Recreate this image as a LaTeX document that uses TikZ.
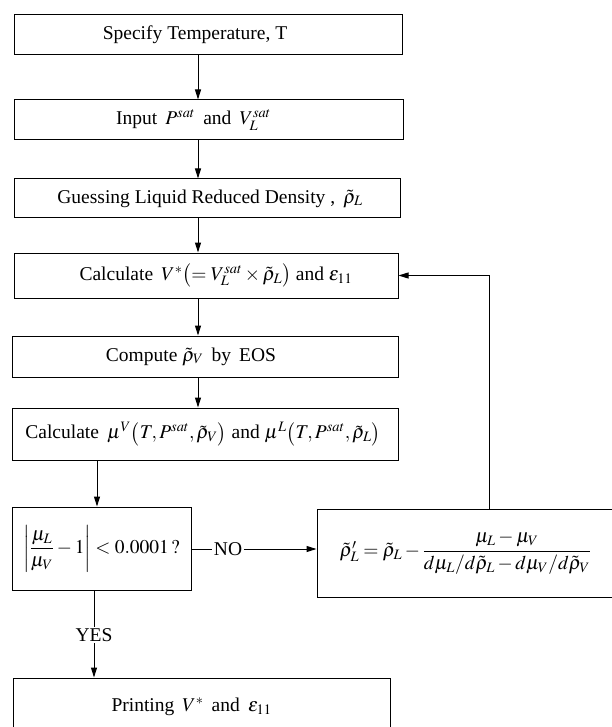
\documentclass[tikz,border=0pt]{standalone}
\usepackage{amsmath}
\usepackage{mathptmx}
\usepackage{fontspec}
\setmainfont{Liberation Serif}
\usetikzlibrary{arrows.meta}
\newcommand\txshift[1]{\hspace*{#1}}
\tikzset{
  box/.style={draw, line width=1pt, inner sep=0pt, anchor=center, font=\fontsize{19.5}{22}\selectfont},
  arr/.style={line width=1pt, -{Triangle[length=10pt,width=6pt]}},
  ln/.style={line width=1pt},
  lbl/.style={font=\fontsize{19.5}{22}\selectfont, inner sep=1.5pt, fill=white}
}
\begin{document}
\begin{tikzpicture}[x=1pt,y=-1pt]
\useasboundingbox (0,0) rectangle (612,727);
\clip (0,0) rectangle (612,727);
\fill[white] (0,0) rectangle (612,727);
\node[box, minimum width=388pt, minimum height=40pt] (b1) at (208,35) {\txshift{-26pt}Specify Temperature, T};
\node[box, minimum width=389pt, minimum height=40pt] (b2) at (208.5,120) {\txshift{-30pt}Input\, $P^{sat}$ \,and\, $V_L^{sat}$};
\node[box, minimum width=386pt, minimum height=39pt] (b3) at (207,198.5) {\txshift{6pt}Guessing Liquid Reduced Density ,\, $\tilde\rho_L$};
\node[box, minimum width=384pt, minimum height=45pt] (b4) at (206,275.5) {\txshift{20pt}Calculate\, $V^{*}\bigl(=V_L^{sat}\times\tilde\rho_L\bigr)$ and $\varepsilon_{11}$};
\node[box, minimum width=386pt, minimum height=41pt] (b5) at (205,356.5) {\txshift{-28pt}Compute $\tilde\rho_V$\, by\, EOS};
\node[box, minimum width=386pt, minimum height=52pt] (b6) at (205,434) {\txshift{-4pt}Calculate\, $\mu^V\bigl(T,P^{sat},\tilde\rho_V\bigr)$ and $\mu^L\bigl(T,P^{sat},\tilde\rho_L\bigr)$};
\node[box, minimum width=179pt, minimum height=83pt] (b7) at (101.5,548.5) {$\left|\dfrac{\mu_L}{\mu_V}-1\right|<0.0001\,?$};
\node[box, minimum width=297pt, minimum height=88pt] (b8) at (465.5,553) {$\tilde\rho_L' = \tilde\rho_L - \dfrac{\mu_L-\mu_V}{d\mu_L/d\tilde\rho_L - d\mu_V/d\tilde\rho_V}$};
\node[box, minimum width=377pt, minimum height=60pt, text depth=0pt] (b9) at (201.5,708) {\txshift{-20pt}\raisebox{6pt}{Printing\, $V^{*}$ \,and\, $\varepsilon_{11}$}};
\node[lbl] (yes) at (94,635) {YES};
\node[lbl] (no) at (228,549) {NO};
\coordinate (ax) at (198,0);
\coordinate (bx) at (97,0);
\coordinate (yx) at (94,0);
\coordinate (fx) at (489,0);
\draw[arr] (b1.south -| ax) -- (b2.north -| ax);
\draw[arr] (b2.south -| ax) -- (b3.north -| ax);
\draw[arr] (b3.south -| ax) -- (b4.north -| ax);
\draw[arr] (b4.south -| ax) -- (b5.north -| ax);
\draw[arr] (b5.south -| ax) -- (b6.north -| ax);
\draw[arr] (b6.south -| bx) -- (b7.north -| bx);
\draw[ln] (b7.south -| yx) -- (yes.north);
\draw[arr] (yes.south) -- (b9.north -| yes);
\draw[ln] (b7.east |- no) -- (no.west);
\draw[arr] (no.east) -- (b8.west |- no);
\draw[arr] (b8.north -| fx) |- (b4.east);
\end{tikzpicture}
\end{document}
